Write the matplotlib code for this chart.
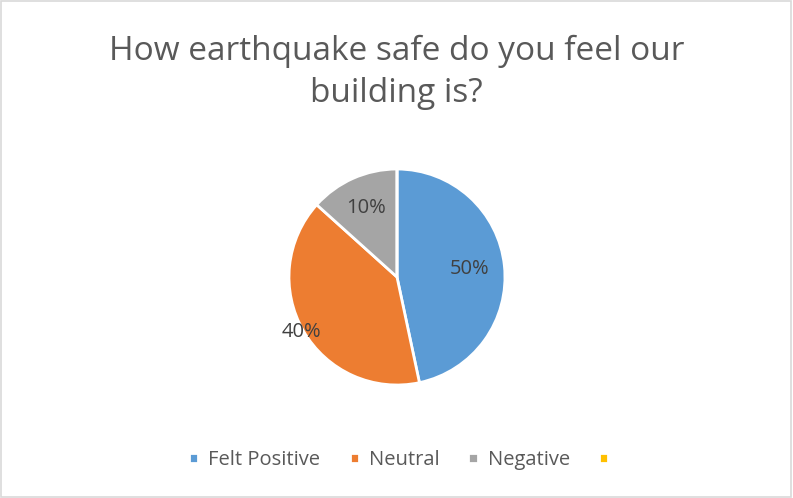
import numpy as np
import matplotlib
matplotlib.use("Agg")
import matplotlib.pyplot as plt
from matplotlib.patches import Rectangle

# data
categories = ["Felt Positive", "Neutral", "Negative", ""]
values = [7, 6, 2, 0]
shown_labels = ["50%", "40%", "10%"]
colors = ["#5B9BD5", "#ED7D31", "#A5A5A5", "#FFC000"]

plt.rcParams['font.family'] = ['Open Sans', 'DejaVu Sans']
text_col = "#595959"

fig = plt.figure(figsize=(7.93, 4.98), dpi=100)
fig.patches.append(Rectangle((0.001, 0.002), 0.997, 0.996, transform=fig.transFigure,
                             fill=False, edgecolor="#D9D9D9", linewidth=1.2))

ax = fig.add_axes([0.3644, 0.2269, 0.2724, 0.4337])
wedges, _ = ax.pie(values, colors=colors, startangle=90, counterclock=False,
                   wedgeprops=dict(edgecolor="white", linewidth=2))
ax.set_xlim(-1, 1)
ax.set_ylim(-1, 1)

# label radius per slice (Excel best fit)
label_r = [0.68, 1.02, 0.70]
for w, lab, r in zip(wedges, shown_labels, label_r):
    ang = np.deg2rad((w.theta1 + w.theta2) / 2)
    ax.text(r * np.cos(ang), r * np.sin(ang), lab, ha="center", va="center",
            fontsize=14.5, color="#404040")

fig.text(0.5, 0.897, "How earthquake safe do you feel our", ha="center", va="center",
         fontsize=24, color=text_col)
fig.text(0.5, 0.813, "building is?", ha="center", va="center",
         fontsize=24, color=text_col)

fig.legend(wedges, categories, loc="center", bbox_to_anchor=(0.509, 0.076), ncol=4,
           frameon=False, fontsize=14.5, labelcolor=text_col,
           handlelength=0.45, handleheight=0.45, handletextpad=0.5, columnspacing=1.45)

fig.savefig("out.png", dpi=100)
